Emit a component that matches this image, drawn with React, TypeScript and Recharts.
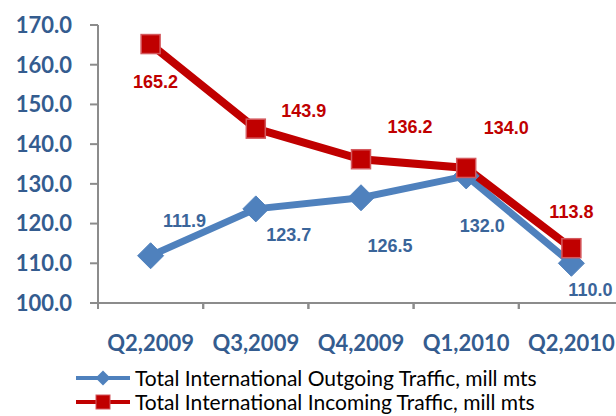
import { LineChart, Line, XAxis, YAxis, Legend, LabelList } from "recharts";

const quarters = ["Q2,2009", "Q3,2009", "Q4,2009", "Q1,2010", "Q2,2010"];
const outgoing = [111.9, 123.7, 126.5, 132.0, 110.0];
const incoming = [165.2, 143.9, 136.2, 134.0, 113.8];
const yTicks = [100, 110, 120, 130, 140, 150, 160, 170];

const outName = "Total International Outgoing Traffic, mill mts";
const inName = "Total International Incoming Traffic, mill mts";

const data = quarters.map((q, i) => ({ q, outgoing: outgoing[i], incoming: incoming[i] }));

// where each value label sits relative to its point (dx, dy)
const outShift = [[34, -35], [33, 26], [29, 48], [16, 50], [19, 27]];
const inShift = [[5, 38], [48, -18], [49, -32], [40, -40], [0, -36]];

const BLUE = "#4F81BD";
const RED = "#C00000";
const AXIS_TEXT = "#345C8F";
const BLUE_TEXT = "#3A659A";

const W = 640;
const H = 416;
const M = { top: 25, right: 16, left: 0, bottom: 73 };
const Y_W = 98;
const band = (W - M.left - M.right - Y_W) / quarters.length;

function Diamond({ cx, cy }: any) {
  if (cx == null || cy == null) return null;
  const r = 13;
  return (
    <polygon
      points={`${cx},${cy - r} ${cx + r},${cy} ${cx},${cy + r} ${cx - r},${cy}`}
      fill={BLUE}
      stroke={BLUE}
      strokeWidth={1}
    />
  );
}

function Square({ cx, cy }: any) {
  if (cx == null || cy == null) return null;
  const s = 19;
  return (
    <rect
      x={cx - s / 2}
      y={cy - s / 2}
      width={s}
      height={s}
      fill={RED}
      stroke="#D4595E"
      strokeWidth={1.5}
    />
  );
}

const makeLabel = (shift: number[][], color: string) => (p: any) => {
  const { x, y, value, index } = p;
  const [dx, dy] = shift[index] || [0, 0];
  return (
    <text
      x={x + dx}
      y={y + dy}
      textAnchor="middle"
      dominantBaseline="central"
      fill={color}
      fontFamily="'Liberation Sans', Arial, sans-serif"
      fontWeight="bold"
      fontSize={18}
    >
      {Number(value).toFixed(1)}
    </text>
  );
};

function QuarterTick({ x, y, payload }: any) {
  return (
    <g>
      <line x1={x - band / 2} y1={y} x2={x - band / 2} y2={y + 6} stroke="#8C8C8C" strokeWidth={2} />
      <line x1={x + band / 2} y1={y} x2={x + band / 2} y2={y + 6} stroke="#8C8C8C" strokeWidth={2} />
      <text
        x={x}
        y={y + 39}
        textAnchor="middle"
        dominantBaseline="central"
        fill={AXIS_TEXT}
        fontFamily="Lato, sans-serif"
        fontWeight="bold"
        fontSize={22}
      >
        {payload.value}
      </text>
    </g>
  );
}

function LegendBox() {
  const rows = [
    { name: outName, color: BLUE, kind: "d" },
    { name: inName, color: RED, kind: "s" },
  ];
  return (
    <div style={{ fontFamily: "Lato, sans-serif", fontSize: 21, color: "#000", lineHeight: "24px" }}>
      {rows.map((r) => (
        <div key={r.name} style={{ display: "flex", alignItems: "center", height: 24, whiteSpace: "nowrap" }}>
          <svg width={59} height={24} style={{ overflow: "visible", flex: "none" }}>
            <line x1={0} y1={12} x2={54} y2={12} stroke={r.color} strokeWidth={4} />
            {r.kind === "d" ? (
              <polygon points="27,4.5 34.5,12 27,19.5 19.5,12" fill={r.color} />
            ) : (
              <rect x={20} y={5} width={14} height={14} fill={r.color} stroke="#D4595E" strokeWidth={1} />
            )}
          </svg>
          <span>{r.name}</span>
        </div>
      ))}
    </div>
  );
}

export default function App() {
  return (
    <div style={{ position: "absolute", left: 0, top: 0, width: 616, height: 416, overflow: "hidden", background: "#fff" }}>
      <LineChart width={W} height={H} data={data} margin={M}>
        <XAxis
          dataKey="q"
          padding={{ left: band / 2, right: band / 2 }}
          axisLine={{ stroke: "#8C8C8C", strokeWidth: 2 }}
          tickLine={false}
          tickSize={0}
          tickMargin={0}
          tick={<QuarterTick />}
          height={40}
          interval={0}
        />
        <YAxis
          domain={[100, 170]}
          ticks={yTicks}
          width={Y_W}
          axisLine={{ stroke: "#8C8C8C", strokeWidth: 2 }}
          tickLine={{ stroke: "#8C8C8C", strokeWidth: 2 }}
          tickSize={8}
          tickMargin={18}
          tickFormatter={(v: number) => v.toFixed(1)}
          tick={{ fill: AXIS_TEXT, fontFamily: "Lato, sans-serif", fontWeight: "bold", fontSize: 22 }}
        />
        <Legend
          layout="vertical"
          align="center"
          verticalAlign="middle"
          content={<LegendBox />}
          wrapperStyle={{ top: 366, left: 76, width: 560, height: 48 }}
        />
        <Line
          dataKey="outgoing"
          name={outName}
          stroke={BLUE}
          strokeWidth={7}
          dot={<Diamond />}
          activeDot={false}
          isAnimationActive={false}
        >
          <LabelList dataKey="outgoing" content={makeLabel(outShift, BLUE_TEXT)} />
        </Line>
        <Line
          dataKey="incoming"
          name={inName}
          stroke={RED}
          strokeWidth={8}
          dot={<Square />}
          activeDot={false}
          isAnimationActive={false}
        >
          <LabelList dataKey="incoming" content={makeLabel(inShift, RED)} />
        </Line>
      </LineChart>
    </div>
  );
}
